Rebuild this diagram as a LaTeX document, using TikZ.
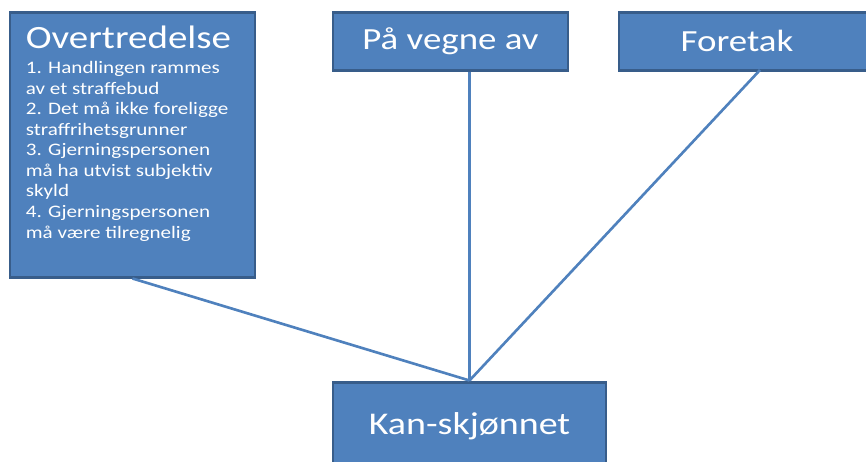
\documentclass[tikz,border=0pt]{standalone}
\usepackage{fontspec}
\usepackage{xcolor}
\usepackage{tikz}
\setmainfont[FakeStretch=1.2]{Carlito}
\definecolor{boxfill}{HTML}{4F81BD}
\definecolor{boxline}{HTML}{385D8A}
\def\px{0.02cm}
\tikzset{
	kasse/.style={draw=boxline, fill=boxfill, line width=1.7pt, inner sep=0pt, text=white},
	strek/.style={draw=boxfill, line width=1.5pt}
}

\begin{document}
\begin{tikzpicture}[x=\px, y=-\px]
		\useasboundingbox (0,0) rectangle (866,461);
		\begin{scope}
			\clip (0,0) rectangle (866,461);
			\node[kasse, minimum width=245*\px, minimum height=265*\px] (ovr) at (132.5,144.5) {};
			\node[kasse, minimum width=235*\px, minimum height=58*\px,
				font=\fontsize{17.5}{20}\selectfont] (pva) at (450.5,41) {På vegne av};
			\node[kasse, minimum width=286*\px, minimum height=58*\px] (fore) at (762,41) {};
			\node[kasse, minimum width=273*\px, minimum height=88*\px,
				font=\fontsize{18}{20}\selectfont] (kan) at (469.5,426) {Kan-skjønnet};
		\end{scope}
		\node[text=white, font=\fontsize{17.5}{20}\selectfont] (foretekst) at (737,41) {Foretak};
		\node[text=white, anchor=north west, inner sep=0pt, align=left,
			font=\fontsize{10}{11.7}\selectfont] (ovrtekst) at ([shift={(17,15)}]ovr.north west)
			{{\fontsize{18.5}{12}\selectfont Overtredelse}\\[2.6pt]
			1. Handlingen rammes\\
			av et straffebud\\
			2. Det må ikke foreligge\\
			straffrihetsgrunner\\
			3. Gjerningspersonen\\
			må ha utvist subjektiv\\
			skyld\\
			4. Gjerningspersonen\\
			må være tilregnelig};
		\coordinate (pvafot) at (pva.south -| kan.north);
		\coordinate (forefot) at (760,70);
		\draw[strek] (ovr.south) -- (kan.north);
		\draw[strek] (pvafot) -- (kan.north);
		\draw[strek] (forefot) -- (kan.north);
	\end{tikzpicture}
\end{document}
